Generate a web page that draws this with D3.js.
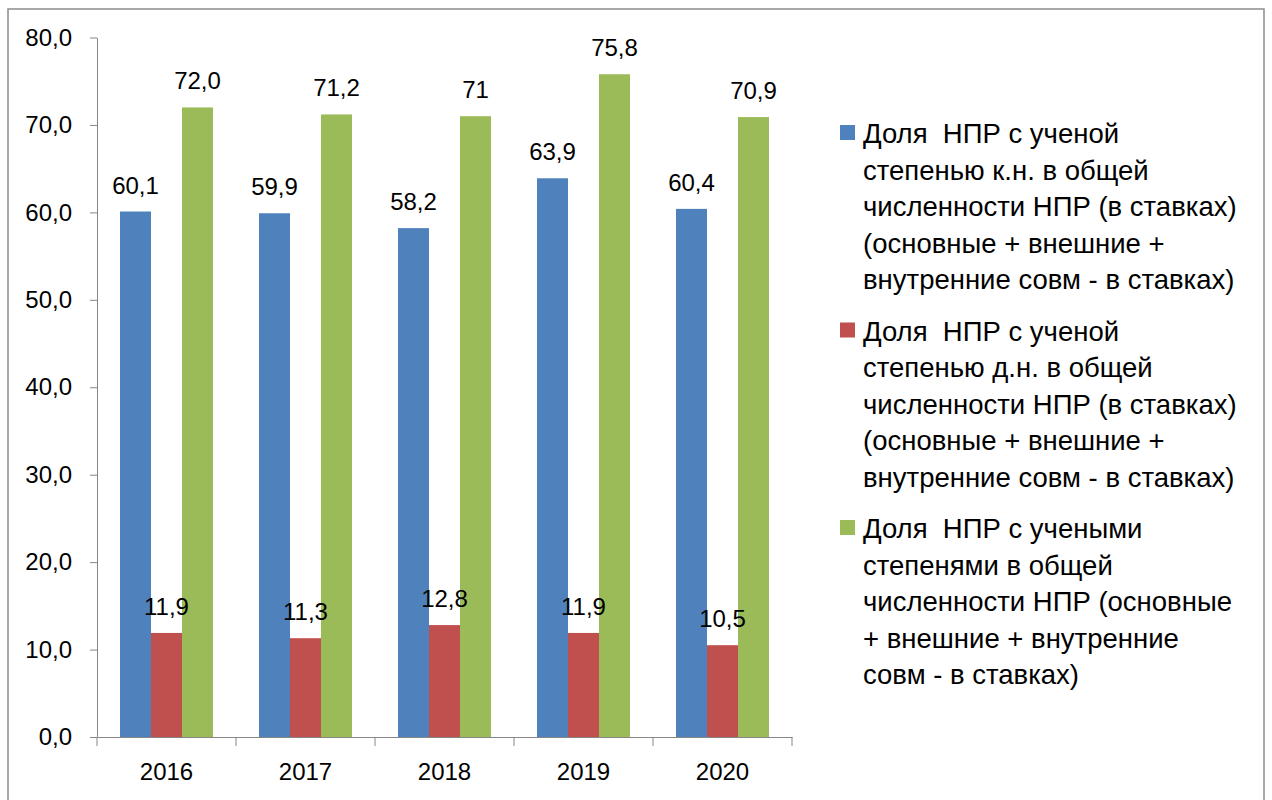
<!DOCTYPE html>
<html>
<head>
<meta charset="utf-8">
<script src="https://cdn.jsdelivr.net/npm/d3@7"></script>
<style>
  body { margin: 0; background: #fff; }
  svg text { font-family: "Liberation Sans", Arial, sans-serif; fill: #000; }
</style>
</head>
<body>
<div id="chart"></div>
<script>
// * Data
var years = ["2016", "2017", "2018", "2019", "2020"];
var seriesNames = ["kn", "dn", "all"];
var seriesColors = ["#4f81bd", "#c0504d", "#9bbb59"];
// labels as shown on the chart (values are parsed from them)
var knLabels = ["60,1", "59,9", "58,2", "63,9", "60,4"];
var dnLabels = ["11,9", "11,3", "12,8", "11,9", "10,5"];
var allLabels = ["72,0", "71,2", "71", "75,8", "70,9"];
var yTicks = [0, 10, 20, 30, 40, 50, 60, 70, 80];

var legendLines = [
  ["Доля  НПР с ученой", "степенью к.н. в общей", "численности НПР (в ставках)", "(основные + внешние +", "внутренние совм - в ставках)"],
  ["Доля  НПР с ученой", "степенью д.н. в общей", "численности НПР (в ставках)", "(основные + внешние +", "внутренние совм - в ставках)"],
  ["Доля  НПР с учеными", "степенями в общей", "численности НПР (основные", "+ внешние + внутренние", "совм - в ставках)"]
];

var labelSets = [knLabels, dnLabels, allLabels];
var toNum = function (s) { return +s.replace(",", "."); };

// * Sizes
var W = 1272, H = 800;
var plot = { left: 97, right: 792, top: 37.5, bottom: 737 };
var fontSize = 24, legendFont = 27.5;

var svg = d3.select("#chart").append("svg")
  .attr("width", W)
  .attr("height", H);

// * outer frame
svg.append("rect")
  .attr("x", 8).attr("y", 9)
  .attr("width", 1256).attr("height", 820)
  .attr("fill", "none")
  .attr("stroke", "#8c8c8c")
  .attr("stroke-width", 1.5);

var x = d3.scaleBand().domain(years).range([plot.left, plot.right]).padding(0);
var xs = d3.scaleBand().domain(seriesNames).range([23, x.bandwidth() - 23]).padding(0);
var y = d3.scaleLinear().domain([0, 80]).range([plot.bottom, plot.top]);
var fmt = d3.formatLocale({ decimal: ",", thousands: " ", grouping: [3], currency: ["", ""] }).format(".1f");

function rowsFor(d, i) {
  return seriesNames.map(function (s, k) {
    return { s: s, k: k, v: toNum(labelSets[k][i]), label: labelSets[k][i] };
  });
}

// * bars
var groups = svg.selectAll(".year").data(years).enter()
  .append("g")
  .attr("class", "year")
  .attr("transform", function (d) { return "translate(" + x(d) + ",0)"; });

groups.selectAll("rect")
  .data(rowsFor)
  .enter().append("rect")
  .attr("x", function (d) { return xs(d.s); })
  .attr("width", xs.bandwidth())
  .attr("y", function (d) { return y(d.v); })
  .attr("height", function (d) { return y(0) - y(d.v); })
  .attr("fill", function (d) { return seriesColors[d.k]; });

// * y axis
var yAxis = svg.append("g")
  .attr("transform", "translate(" + plot.left + ",0)")
  .call(d3.axisLeft(y).tickValues(yTicks).tickSize(7).tickSizeOuter(0).tickPadding(18).tickFormat(fmt));
yAxis.selectAll("path, line").attr("stroke", "#868686");
yAxis.selectAll("text").style("font-size", fontSize + "px").attr("fill", "#000");

// * x axis: labels under categories, ticks between them
var xAxis = svg.append("g")
  .attr("transform", "translate(0," + plot.bottom + ")")
  .call(d3.axisBottom(x).tickSize(0).tickPadding(26));
xAxis.select(".domain").attr("stroke", "#868686");
xAxis.selectAll("text").style("font-size", fontSize + "px").attr("fill", "#000");

var edges = years.map(function (d) { return x(d); }).concat([x.range()[1]]);
xAxis.selectAll(".edge").data(edges).enter()
  .append("line")
  .attr("class", "edge")
  .attr("x1", function (d) { return d; })
  .attr("x2", function (d) { return d; })
  .attr("y1", 0).attr("y2", 9)
  .attr("stroke", "#868686");

// * data labels
groups.selectAll("text.lbl")
  .data(rowsFor)
  .enter().append("text")
  .attr("class", "lbl")
  .attr("x", function (d) { return xs(d.s) + xs.bandwidth() / 2; })
  .attr("y", function (d) { return y(d.v) - 18; })
  .attr("text-anchor", "middle")
  .style("font-size", fontSize + "px")
  .text(function (d) { return d.label; });

// * legend
var legend = svg.append("g").attr("class", "legend");
var lineGap = 36.5, itemGap = 197.5, firstBase = 143;

legendLines.forEach(function (lines, k) {
  var base = firstBase + k * itemGap;
  legend.append("rect")
    .attr("x", 840).attr("y", base - 18)
    .attr("width", 15).attr("height", 15)
    .attr("fill", seriesColors[k]);
  legend.selectAll(".item" + k).data(lines).enter()
    .append("text")
    .attr("class", "item" + k)
    .attr("x", 863)
    .attr("y", function (d, j) { return base + j * lineGap; })
    .style("font-size", legendFont + "px")
    .style("white-space", "pre")
    .text(function (d) { return d; });
});
</script>
</body>
</html>
